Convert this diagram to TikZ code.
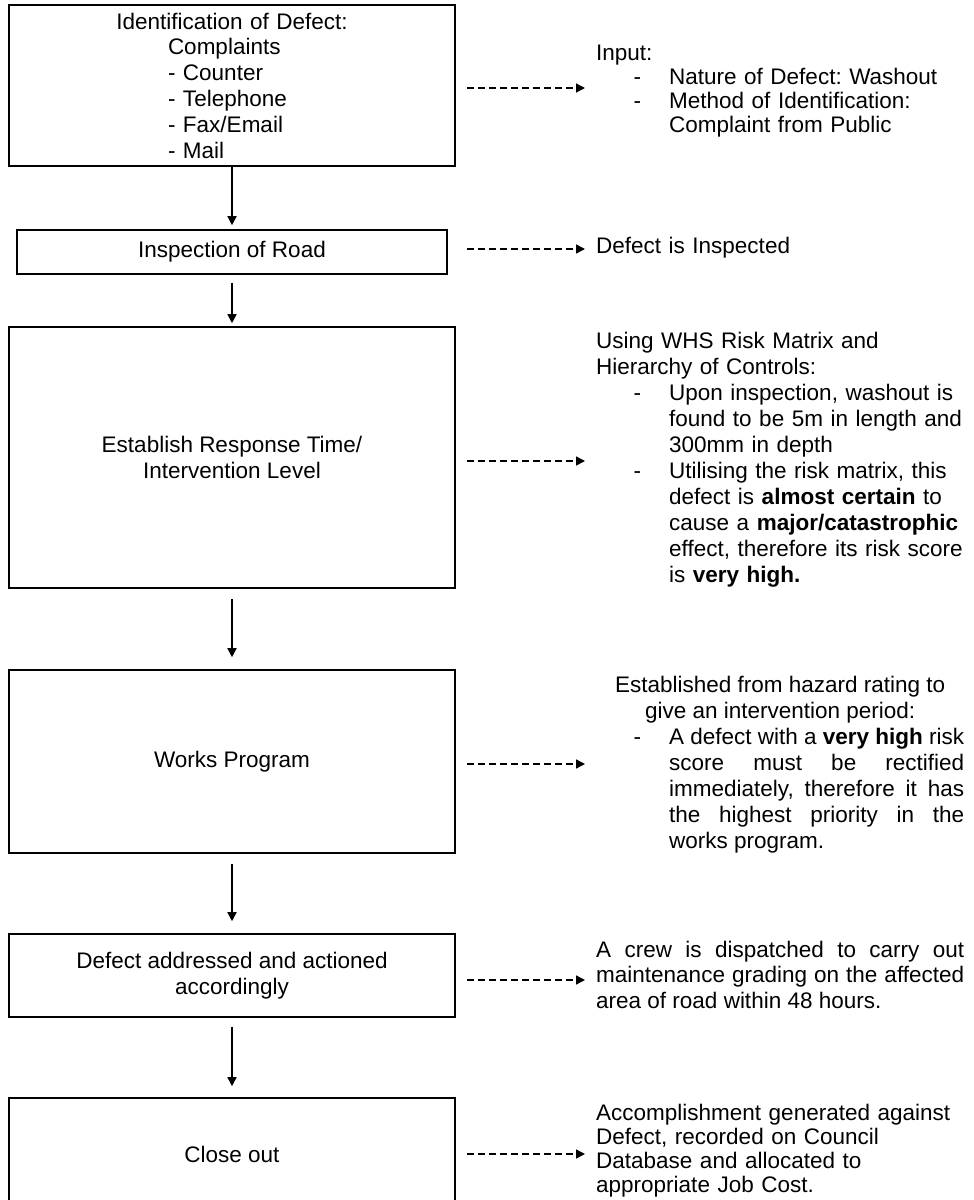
\documentclass[tikz,border=0pt]{standalone}
\usepackage{fontspec}
\setmainfont{Liberation Sans}
\usetikzlibrary{arrows.meta}
\frenchspacing
\newcommand\dashitem{\par\leftskip=73pt\relax\noindent\llap{-\hspace{28pt}}}
\tikzset{
  box/.style={draw=black, line width=1.6pt, minimum width=446pt, inner sep=8pt, align=center, font=\fontsize{22.5}{26}\selectfont},
  rtext/.style={inner sep=0pt, anchor=base west, text width=368pt, align=left, font=\fontsize{22.5}{26}\selectfont},
  varr/.style={line width=1.5pt, -{Triangle[length=9pt,width=9pt]}},
  darr/.style={line width=1.5pt, dash pattern=on 7pt off 4pt, -{Triangle[length=9pt,width=9pt]}},
}
\begin{document}
\begin{tikzpicture}[x=1pt,y=-1pt]
\useasboundingbox (0,0) rectangle (974,1200);
\clip (0,0) rectangle (974,1200);

% flow boxes
\node[box, minimum height=157pt, text width=430pt, align=left, font=\fontsize{22.5}{25.8}\selectfont] (b1) at (232,85.5)
  {\makebox[\linewidth]{Identification of Defect:}\\
   \hspace*{151pt}Complaints\\
   \hspace*{151pt}- Counter\\
   \hspace*{151pt}- Telephone\\
   \hspace*{151pt}- Fax/Email\\
   \hspace*{151pt}- Mail};
\node[box, minimum width=430pt, minimum height=44pt] (b2) at (232,252) {Inspection of Road};
\node[box, minimum height=261pt] (b3) at (232,457.5) {Establish Response Time/\\Intervention Level};
\node[box, minimum height=183pt] (b4) at (232,761.5) {Works Program};
\node[box, minimum height=83pt] (b5) at (232,975.5) {Defect addressed and actioned\\accordingly};
\node[box, minimum height=112pt] (b6) at (232,1154) {Close out};

% right-hand texts
\node[rtext, font=\fontsize{22.5}{24.3}\selectfont] (t1) at (596,60)
  {Input:\dashitem Nature of Defect: Washout\dashitem Method of Identification:\\Complaint from Public\par};
\node[rtext] (t2) at (596,253) {Defect is Inspected};
\node[rtext] (t3) at (596,348)
  {Using WHS Risk Matrix and\\Hierarchy of Controls:%
   \dashitem Upon inspection, washout is\\found to be 5m in length and\\300mm in depth%
   \dashitem Utilising the risk matrix, this\\defect is \textbf{almost certain} to\\cause a \textbf{major/catastrophic}\\effect, therefore its risk score\\is \textbf{very high.}\par};
\node[rtext, align=justify] (t4) at (596,692)
  {{\centering Established from hazard rating to\\give an intervention period:\par}%
   \dashitem A defect with a \textbf{very high} risk\linebreak score must be rectified\linebreak immediately, therefore it has\linebreak the highest priority in the\linebreak works program.\par};
\node[rtext, align=justify, font=\fontsize{22.5}{25.5}\selectfont] (t5) at (596,957)
  {A crew is dispatched to carry out\linebreak maintenance grading on the affected\linebreak area of road within 48 hours.\par};
\node[rtext, font=\fontsize{22.5}{24.3}\selectfont] (t6) at (596,1120)
  {Accomplishment generated against\\Defect, recorded on Council\\Database and allocated to\\appropriate Job Cost.};

% vertical flow arrows
\draw[varr, shorten >=4pt] (b1.south) -- (b2.north);
\draw[varr, shorten <=8pt, shorten >=3pt] (b2.south) -- (b3.north);
\draw[varr, shorten <=10pt, shorten >=12pt] (b3.south) -- (b4.north);
\draw[varr, shorten <=10pt, shorten >=12pt] (b4.south) -- (b5.north);
\draw[varr, shorten <=9pt, shorten >=11pt] (b5.south) -- (b6.north);

% dashed arrows to the texts
\draw[darr, shorten <=11pt, shorten >=11pt] ([yshift=-2.5pt]b1.east) -- ([yshift=-2.5pt]b1.east -| t1.west);
\draw[darr, shorten <=19pt, shorten >=11pt] ([yshift=3pt]b2.east) -- ([yshift=3pt]b2.east -| t2.west);
\draw[darr, shorten <=11pt, shorten >=11pt] ([yshift=-3.5pt]b3.east) -- ([yshift=-3.5pt]b3.east -| t3.west);
\draw[darr, shorten <=11pt, shorten >=11pt] ([yshift=-2.5pt]b4.east) -- ([yshift=-2.5pt]b4.east -| t4.west);
\draw[darr, shorten <=11pt, shorten >=11pt] ([yshift=-4.5pt]b5.east) -- ([yshift=-4.5pt]b5.east -| t5.west);
\draw[darr, shorten <=11pt, shorten >=11pt] (b6.east) -- (b6.east -| t6.west);
\end{tikzpicture}
\end{document}
